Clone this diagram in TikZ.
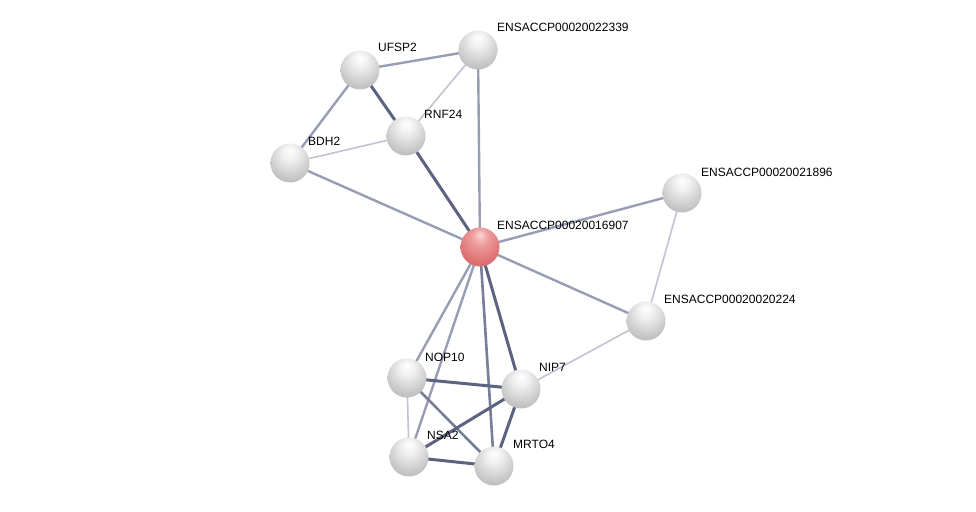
\documentclass[tikz,border=0pt]{standalone}
\usepackage{fontspec}
\setmainfont{Liberation Sans}
\pgfdeclarelayer{bg}
\pgfsetlayers{bg,main}
\pgfdeclareradialshading{gball}{\pgfpoint{0bp}{16bp}}{%
  color(0bp)=(white);
  color(10bp)=(black!6);
  color(26bp)=(black!20);
  color(38bp)=(black!30);
  color(48bp)=(black!42);
  color(58bp)=(black!58);
  color(68bp)=(black!64)}
\pgfdeclareradialshading{rball}{\pgfpoint{0bp}{16bp}}{%
  color(0bp)=(rgb,255:red,250;green,215;blue,215);
  color(10bp)=(rgb,255:red,238;green,160;blue,160);
  color(26bp)=(rgb,255:red,225;green,118;blue,118);
  color(38bp)=(rgb,255:red,212;green,100;blue,100);
  color(48bp)=(rgb,255:red,185;green,75;blue,75);
  color(58bp)=(rgb,255:red,150;green,52;blue,52);
  color(68bp)=(rgb,255:red,140;green,48;blue,48)}
\definecolor{edark}{RGB}{92,99,128}
\definecolor{emed}{RGB}{152,157,181}
\definecolor{emdark}{RGB}{120,126,154}
\definecolor{elight}{RGB}{192,196,211}
\begin{document}
\begin{tikzpicture}[x=1pt,y=-1pt,
  prot/.style={circle,minimum size=39pt,inner sep=0pt,shading=gball},
  seed/.style={circle,minimum size=39pt,inner sep=0pt,shading=rball},
  lbl/.style={anchor=base west,inner sep=0pt,font=\fontsize{12}{14}\selectfont},
  dk/.style={draw=edark,line width=3pt},
  md/.style={draw=emed,line width=2.4pt},
  mdk/.style={draw=emdark,line width=2.6pt},
  lt/.style={draw=elight,line width=1.6pt}]
\useasboundingbox (0,0) rectangle (976,511);
% nodes
\node[prot] (ufsp2) at (360,70) {};
\node[prot] (p22339) at (478,50) {};
\node[prot] (rnf24) at (406,136) {};
\node[prot] (bdh2) at (290,163) {};
\node[seed] (p16907) at (480,247) {};
\node[prot] (p21896) at (682,193) {};
\node[prot] (p20224) at (646,321) {};
\node[prot] (nop10) at (407,378) {};
\node[prot] (nip7) at (521,389) {};
\node[prot] (nsa2) at (409,457) {};
\node[prot] (mrto4) at (494,466) {};
% labels
\node[lbl] (l1) at (378,52) {UFSP2};
\node[lbl] (l2) at (497,32) {ENSACCP00020022339};
\node[lbl] (l3) at (424,118) {RNF24};
\node[lbl] (l4) at (308,145) {BDH2};
\node[lbl] (l5) at (497,229) {ENSACCP00020016907};
\node[lbl] (l6) at (701,176) {ENSACCP00020021896};
\node[lbl] (l7) at (664,303) {ENSACCP00020020224};
\node[lbl] (l8) at (425,361) {NOP10};
\node[lbl] (l9) at (539,371) {NIP7};
\node[lbl] (l10) at (427,439) {NSA2};
\node[lbl] (l11) at (513,448) {MRTO4};
% edges
\begin{pgfonlayer}{bg}
\fill[white] (0,0) rectangle (976,511);
\draw[md] (ufsp2.center) -- (p22339.center);
\draw[dk] (ufsp2.center) -- (rnf24.center);
\draw[md] (ufsp2.center) -- (bdh2.center);
\draw[lt] (p22339.center) -- (rnf24.center);
\draw[md] (p22339.center) -- (p16907.center);
\draw[lt] (bdh2.center) -- (rnf24.center);
\draw[md] (bdh2.center) -- (p16907.center);
\draw[dk] (rnf24.center) -- (p16907.center);
\draw[md] (p16907.center) -- (p21896.center);
\draw[md] (p16907.center) -- (p20224.center);
\draw[lt] (p21896.center) -- (p20224.center);
\draw[lt] (p20224.center) -- (nip7.center);
\draw[md] (p16907.center) -- (nop10.center);
\draw[md] (p16907.center) -- (nsa2.center);
\draw[mdk] (p16907.center) -- (mrto4.center);
\draw[dk] (p16907.center) -- (nip7.center);
\draw[dk] (nop10.center) -- (nip7.center);
\draw[lt] (nop10.center) -- (nsa2.center);
\draw[mdk] (nop10.center) -- (mrto4.center);
\draw[dk] (nip7.center) -- (nsa2.center);
\draw[dk] (nip7.center) -- (mrto4.center);
\draw[dk] (nsa2.center) -- (mrto4.center);
\end{pgfonlayer}
\end{tikzpicture}
\end{document}
